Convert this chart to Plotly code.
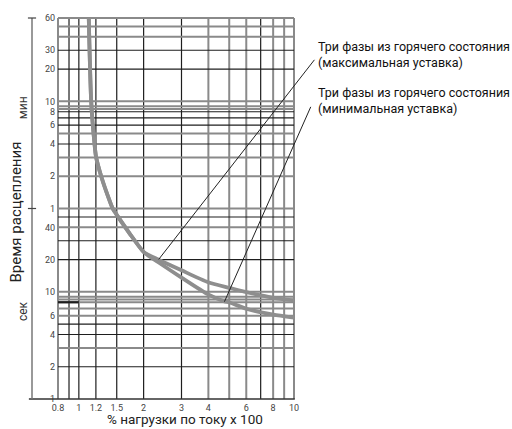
import numpy as np
import plotly.graph_objects as go

# ---- data ----
# shared part of both curves (load x100, time in seconds)
shared_x = [1.112, 1.141, 1.182, 1.201, 1.27, 1.388, 1.438, 1.517, 1.72, 2.004]
shared_t = [3600, 600, 243, 184, 120, 71.4, 59.7, 50.6, 35.2, 23.5]
# three phases from hot state, maximum setting
max_x = [2.35, 3.0, 3.99, 5.01, 6.0, 7.03, 8.03, 10.0]
max_t = [19.95, 15.9, 12.3, 10.9, 9.95, 9.27, 8.81, 8.32]
# three phases from hot state, minimum setting
min_x = [2.35, 3.0, 3.99, 4.75, 5.01, 6.0, 7.03, 8.03, 10.0]
min_t = [18.8, 13.6, 9.47, 8.15, 7.96, 6.96, 6.43, 6.12, 5.74]

# leader lines: (label end, curve point)
lead_max = [(12.6, 1513), (2.35, 20.1)]
lead_min = [(12.05, 551), (4.75, 8.1)]
label_max = "Три фазы из горячего состояния<br>(максимальная уставка)"
label_min = "Три фазы из горячего состояния<br>(минимальная уставка)"
x_title = "% нагрузки по току x 100"
y_title = "Время расцепления"

# grid
x_grid_dark = [0.9, 1, 1.2, 1.5, 2, 3, 7]
x_grid_gray = [0.8, 4, 5, 6, 8, 9, 10]
y_grid_dark = [1800, 1200, 480, 420, 360, 240, 50, 30, 20, 5, 4, 2]
y_grid_gray = [3600, 3000, 2400, 600, 540, 510, 300, 180, 120, 60, 40, 10, 9, 8.5, 8, 7, 6, 3]
y_dark_segment = (8, 0.8, 1.0)  # short dark mark at 8 s between 0.8 and 1

# ticks
x_ticks = [0.8, 1, 1.2, 1.5, 2, 3, 4, 6, 8, 10]
x_tick_text = ["0.8", "1", "1.2", "1.5", "2", "3", "4", "6", "8", "10"]
y_ticks = [3600, 1800, 1200, 600, 480, 360, 240, 120, 60, 40, 20, 10, 6, 4, 2, 1]
y_tick_text = ["60", "30", "20", "10", "8", "6", "4", "2", "1", "40", "20", "10", "6", "4", "2", "1"]

FONT = "Roboto, Liberation Sans, sans-serif"
CURVE = "#8e8e8e"
GRAY = "#8a8a8a"
DARK = "#1e1e1e"

fig = go.Figure()
fig.add_trace(go.Scatter(x=shared_x + max_x, y=shared_t + max_t, mode="lines",
                         line=dict(color=CURVE, width=3.8, shape="spline", smoothing=0.6),
                         hoverinfo="skip", showlegend=False))
fig.add_trace(go.Scatter(x=shared_x + min_x, y=shared_t + min_t, mode="lines",
                         line=dict(color=CURVE, width=3.8, shape="spline", smoothing=0.6),
                         hoverinfo="skip", showlegend=False))

shapes = []
for v in x_grid_gray:
    shapes.append(dict(type="line", xref="x", yref="y", x0=v, x1=v, y0=1, y1=3600,
                       line=dict(color=GRAY, width=2), layer="below"))
for v in x_grid_dark:
    shapes.append(dict(type="line", xref="x", yref="y", x0=v, x1=v, y0=1, y1=3600,
                       line=dict(color=DARK, width=1.2), layer="below"))
for v in y_grid_gray:
    shapes.append(dict(type="line", xref="x", yref="y", x0=0.8, x1=10, y0=v, y1=v,
                       line=dict(color=GRAY, width=2), layer="below"))
for v in y_grid_dark:
    shapes.append(dict(type="line", xref="x", yref="y", x0=0.8, x1=10, y0=v, y1=v,
                       line=dict(color=DARK, width=1.2), layer="below"))
yv, xa, xb = y_dark_segment
shapes.append(dict(type="line", xref="x", yref="y", x0=xa, x1=xb, y0=yv, y1=yv,
                   line=dict(color=DARK, width=2.2), layer="below"))
# bottom axis line (extends to the left scale)
shapes.append(dict(type="line", xref="paper", yref="y", x0=-0.113, x1=0.995, y0=1, y1=1,
                   line=dict(color="#333333", width=1.5)))
# left scale line with ticks
shapes.append(dict(type="line", xref="paper", yref="y", x0=-0.1, x1=-0.1, y0=1, y1=3600,
                   line=dict(color="#777777", width=1.5)))
for v in [3600, 60]:
    shapes.append(dict(type="line", xref="paper", yref="y", x0=-0.117, x1=-0.083, y0=v, y1=v,
                       line=dict(color="#444444", width=1.2)))

annotations = [
    dict(xref="paper", yref="paper", x=1.083, y=0.946, text=label_max, showarrow=False,
         xanchor="left", yanchor="top", align="left",
         font=dict(family=FONT, size=12.5, color="#111111")),
    dict(xref="paper", yref="paper", x=1.083, y=0.827, text=label_min, showarrow=False,
         xanchor="left", yanchor="top", align="left",
         font=dict(family=FONT, size=12.5, color="#111111")),
    dict(xref="paper", yref="paper", x=-0.137, y=0.761, text="мин", textangle=-90,
         showarrow=False, xanchor="center", yanchor="middle",
         font=dict(family=FONT, size=12, color="#333333")),
    dict(xref="paper", yref="paper", x=-0.137, y=0.234, text="сек", textangle=-90,
         showarrow=False, xanchor="center", yanchor="middle",
         font=dict(family=FONT, size=12, color="#333333")),
    dict(xref="paper", yref="paper", x=-0.167, y=0.492, text=y_title, textangle=-90,
         showarrow=False, xanchor="center", yanchor="middle",
         font=dict(family=FONT, size=15, color="#222222")),
    dict(xref="paper", yref="paper", x=0.5375, y=-0.0705, text=x_title,
         showarrow=False, xanchor="center", yanchor="bottom", borderpad=0,
         font=dict(family=FONT, size=13.5, color="#222222")),
]
# leader lines as text-less arrows (not clipped by the plot area)
for (p, q) in [lead_max, lead_min]:
    annotations.append(dict(xref="x", yref="y", axref="x", ayref="y",
                            x=np.log10(q[0]), y=np.log10(q[1]),
                            ax=np.log10(p[0]), ay=np.log10(p[1]),
                            text="", showarrow=True, arrowhead=0, arrowwidth=1,
                            arrowcolor="#222222", standoff=0, startstandoff=0))

fig.update_layout(
    width=512, height=429,
    margin=dict(l=56, r=216, t=16, b=28, autoexpand=False),
    paper_bgcolor="white", plot_bgcolor="white",
    shapes=shapes, annotations=annotations,
    showlegend=False,
    xaxis=dict(type="log", range=[np.log10(0.8) - 0.0093, 1.0093], showgrid=False,
               zeroline=False, showline=False, tickvals=x_ticks, ticktext=x_tick_text,
               ticks="", automargin=False, tickfont=dict(family=FONT, size=9, color="#444444")),
    yaxis=dict(type="log", range=[-0.0187, np.log10(3600) + 0.0187], showgrid=False,
               zeroline=False, showline=False, tickvals=y_ticks, ticktext=y_tick_text,
               ticks="", automargin=False, tickfont=dict(family=FONT, size=9, color="#444444")),
)

fig.write_html("out.html", config={"displayModeBar": False},
               post_script="document.body.style.margin='0';document.body.style.overflow='hidden';")
